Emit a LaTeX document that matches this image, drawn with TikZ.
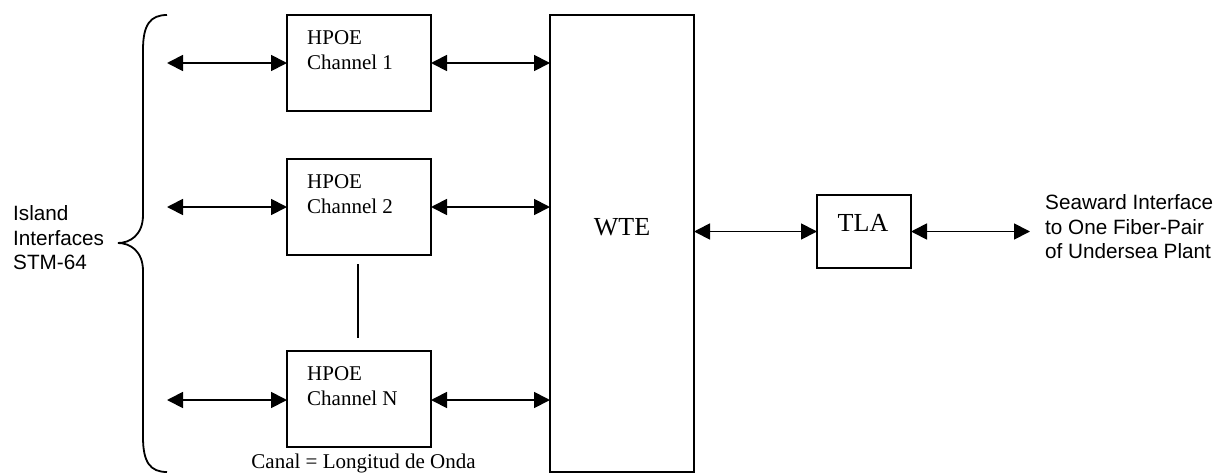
\documentclass[tikz,border=0pt]{standalone}
\usepackage{fontspec}
\setmainfont{Liberation Serif}
\newfontfamily\arialf{Liberation Sans}
\usetikzlibrary{arrows.meta,calc}
\begin{document}
\begin{tikzpicture}[x=1pt,y=-1pt,
  blk/.style={draw,line width=1.8pt,inner sep=0pt,outer sep=0pt},
  conn/.style={line width=1.8pt,{Triangle[length=16pt,width=16pt]}-{Triangle[length=16pt,width=16pt]}},
  plain/.style={line width=1.8pt},
  lbl/.style={inner sep=0pt,align=left,font=\fontsize{21pt}{25pt}\selectfont},
  slbl/.style={inner sep=0pt,align=left,font=\arialf\fontsize{20.7pt}{24.5pt}\selectfont},
  big/.style={inner sep=0pt,font=\fontsize{26pt}{30pt}\selectfont}]
\useasboundingbox (0,0) rectangle (1222,474);
% boxes
\node[blk,minimum width=144pt,minimum height=96pt] (h1) at (359,63) {};
\node[blk,minimum width=144pt,minimum height=96pt] (h2) at (359,207) {};
\node[blk,minimum width=144pt,minimum height=96pt] (h3) at (359,399) {};
\node[blk,minimum width=144pt,minimum height=457pt] (w) at (622,243.5) {};
\node[blk,minimum width=94pt,minimum height=73pt] (t) at (864,231.5) {};
% box texts
\node[lbl,anchor=west] (h1t) at (307,50.5) {HPOE\\Channel 1};
\node[lbl,anchor=west] (h2t) at (307,194.5) {HPOE\\Channel 2};
\node[lbl,anchor=west] (h3t) at (307,386.5) {HPOE\\Channel N};
\node[big] (wt) at (622,227) {WTE};
\node[big] (tt) at (863,222.5) {TLA};
% side texts
\node[slbl,anchor=west] (isl) at (13,238) {Island\\Interfaces\\STM-64};
\node[slbl,anchor=west] (sea) at (1045,227) {Seaward Interface\\to One Fiber-Pair\\of Undersea Plant};
\node[lbl,anchor=center] (canal) at (363.5,463) {Canal = Longitud de Onda};
% free ends
\coordinate (l1) at (167,63);
\coordinate (l2) at (167,207);
\coordinate (l3) at (167,400);
\coordinate (r1) at (1030,232);
\coordinate (v1) at (358,264);
\coordinate (v2) at (358,338);
% connectors
\draw[conn] (l1) -- (l1 -| h1.west);
\draw[conn] (l2) -- (l2 -| h2.west);
\draw[conn] (l3) -- (l3 -| h3.west);
\draw[conn] (h1.east) -- (h1.east -| w.west);
\draw[conn] (h2.east) -- (h2.east -| w.west);
\draw[conn] (l3 -| h3.east) -- (l3 -| w.west);
\draw[conn] (w.east |- t.west) -- (t.west);
\draw[conn] (t.east) -- (r1 |- t.east);
\draw[plain] (v1) -- (v2);
% brace
\draw[plain] (167,15) .. controls (150,15) and (143,25) .. (143,50) -- (143,215)
  .. controls (143,235) and (130,243) .. (118,243)
  .. controls (130,243) and (143,251) .. (143,271) -- (143,437)
  .. controls (143,462) and (150,472) .. (167,472);
\end{tikzpicture}
\end{document}
